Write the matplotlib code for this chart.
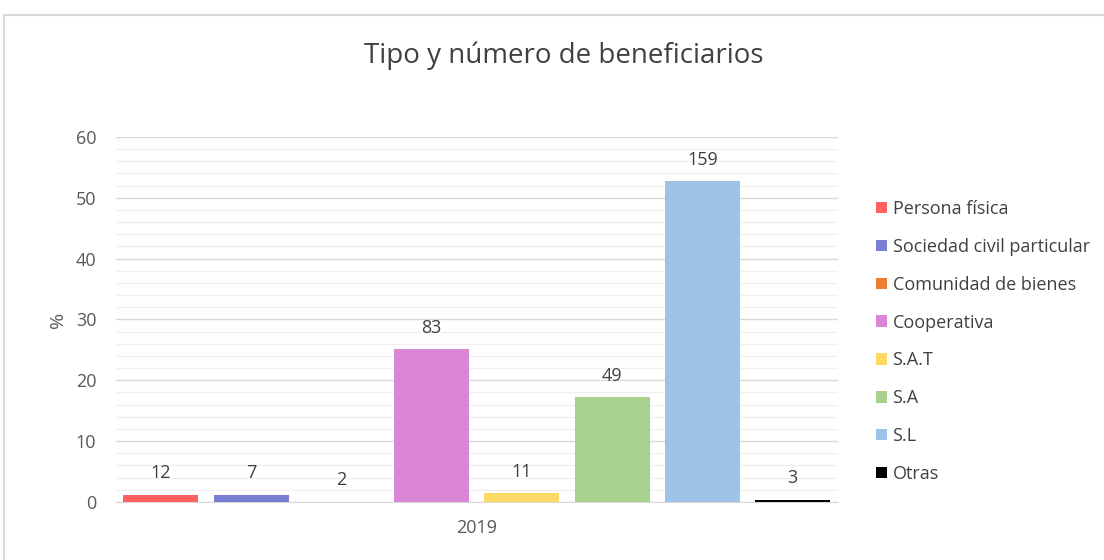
import matplotlib.pyplot as plt
import numpy as np
from matplotlib.patches import Rectangle

plt.rcParams['font.family'] = ['Open Sans', 'DejaVu Sans']

tipos = ['Persona física', 'Sociedad civil particular', 'Comunidad de bienes',
         'Cooperativa', 'S.A.T', 'S.A', 'S.L', 'Otras']
porcentaje = [1.2, 1.2, 0.0, 25.1, 1.4, 17.2, 52.7, 0.4]
numero = [12, 7, 2, 83, 11, 49, 159, 3]
colores = ['#FF6161', '#7B7FD4', '#ED7D31', '#DA85D6',
           '#FFD966', '#A9D18E', '#9DC3E6', '#000000']
anio = '2019'

fig = plt.figure(figsize=(11.04, 5.6), dpi=100)
ax = fig.add_axes([0.1048, 0.1036, 0.6542, 0.6518])

# marco gris del grafico
fig.patches.append(Rectangle((4 / 1104, -0.05), 1.1, (560 - 15) / 560 + 0.05,
                             transform=fig.transFigure, fill=False,
                             edgecolor='#D9D9D9', linewidth=1.5))

x = np.arange(len(tipos))
barras = ax.bar(x, porcentaje, width=0.83, color=colores, label=tipos, zorder=3)

for xi, h, n in zip(x, porcentaje, numero):
    ax.annotate(str(n), (xi, h), xytext=(0, 9), textcoords='offset points',
                ha='center', va='bottom', fontsize=13, color='#404040')

ax.set_xlim(-0.5, 7.5)
ax.set_ylim(0, 60)
ax.set_yticks(np.arange(0, 61, 10))
ax.set_yticks(np.arange(0, 61, 2), minor=True)
ax.set_xticks([3.5])
ax.set_xticklabels([anio])
ax.grid(axis='y', which='major', color='#D9D9D9', linewidth=1, zorder=0)
ax.grid(axis='y', which='minor', color='#F0F0F0', linewidth=1, zorder=0)
ax.tick_params(axis='both', which='both', length=0, labelsize=13,
               labelcolor='#595959', pad=12)
ax.tick_params(axis='y', pad=14)
for s in ['top', 'right', 'left']:
    ax.spines[s].set_visible(False)
ax.spines['bottom'].set_color('#D9D9D9')
ax.set_ylabel('%', fontsize=14, color='#595959', labelpad=6)

fig.text(0.511, 0.90, 'Tipo y número de beneficiarios', ha='center',
         va='center', fontsize=20, color='#404040')

fig.legend(handles=barras, labels=tipos, loc='upper left',
           bbox_to_anchor=(0.779, 0.672), frameon=False, fontsize=13,
           labelspacing=1.1, handlelength=0.6, handleheight=0.6,
           handletextpad=0.3, labelcolor='#404040')

fig.savefig('out.png', dpi=100, facecolor='white')
